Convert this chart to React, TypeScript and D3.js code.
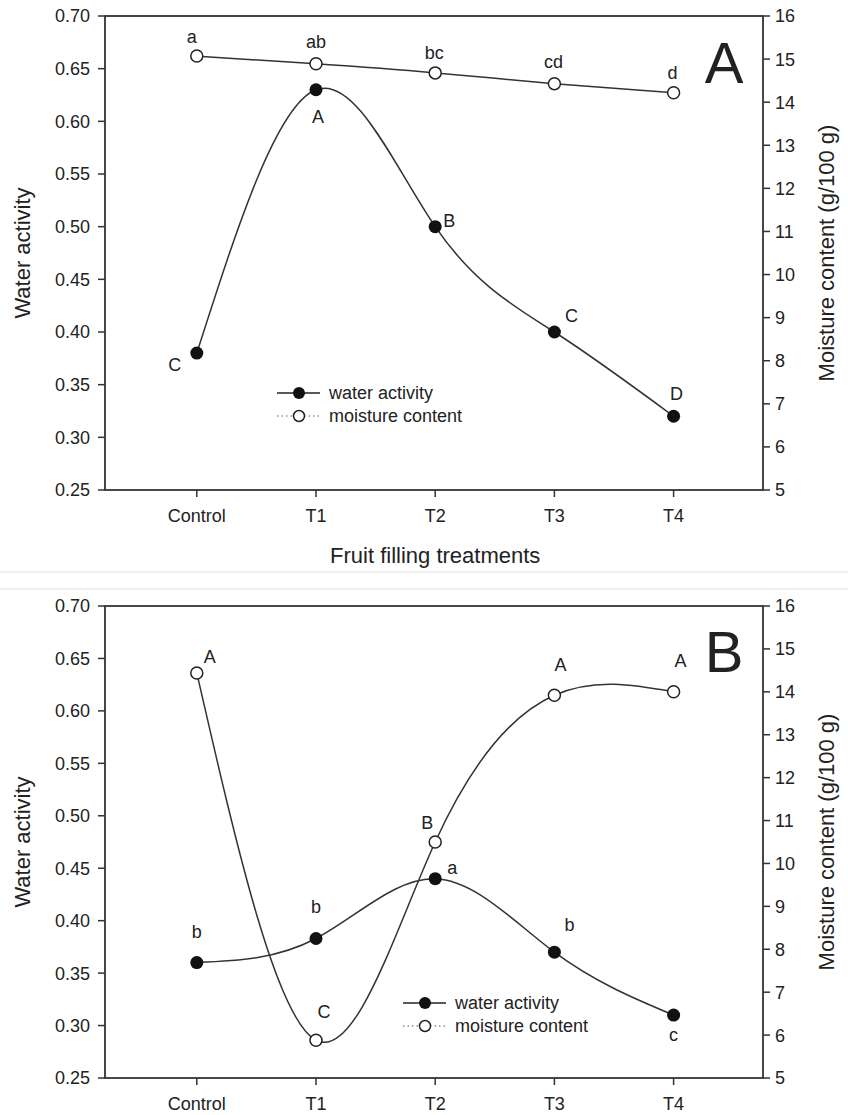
import React from "react";
import * as d3 from "d3";

// categories and tick labels
const treatments = ["Control", "T1", "T2", "T3", "T4"];
const waTicks = [0.25, 0.3, 0.35, 0.4, 0.45, 0.5, 0.55, 0.6, 0.65, 0.7];
const mcTicks = [5, 6, 7, 8, 9, 10, 11, 12, 13, 14, 15, 16];

// panel A
const waterActivityA = [0.38, 0.63, 0.5, 0.4, 0.32];
const moistureA = [15.07, 14.89, 14.68, 14.43, 14.22];
const waLettersA = ["C", "A", "B", "C", "D"];
const mcLettersA = ["a", "ab", "bc", "cd", "d"];

// panel B
const waterActivityB = [0.36, 0.383, 0.44, 0.37, 0.31];
const moistureB = [14.44, 5.88, 10.5, 13.92, 14.0];
const waLettersB = ["b", "b", "a", "b", "c"];
const mcLettersB = ["A", "C", "B", "A", "A"];

const FONT = "Arial, 'Liberation Sans', sans-serif";
const INK = "#222";

const x = d3.scaleLinear().domain([-0.77, 4.75]).range([105, 763]);

type Off = [number, number];

const Panel = ({
  top,
  bottom,
  wa,
  mc,
  waLab,
  mcLab,
  waOff,
  mcOff,
  legend,
  letter,
  letterY,
  xTitle,
}: {
  top: number;
  bottom: number;
  wa: number[];
  mc: number[];
  waLab: string[];
  mcLab: string[];
  waOff: Off[];
  mcOff: Off[];
  legend: { x: number; y: number };
  letter: string;
  letterY: number;
  xTitle: boolean;
}) => {
  const yWa = d3.scaleLinear().domain([0.25, 0.7]).range([bottom, top]);
  const yMc = d3.scaleLinear().domain([5, 16]).range([bottom, top]);
  const left = x.range()[0];
  const right = x.range()[1];
  const mid = (top + bottom) / 2;

  const waLine = d3
    .line<number>()
    .x((_, i) => x(i))
    .y((d) => yWa(d))
    .curve(d3.curveNatural);
  const mcLine = d3
    .line<number>()
    .x((_, i) => x(i))
    .y((d) => yMc(d))
    .curve(d3.curveNatural);

  return (
    <g fontFamily={FONT} fill={INK}>
      {/* frame */}
      <rect x={left} y={top} width={right - left} height={bottom - top} fill="none" stroke="#333" strokeWidth={1.8} />

      {/* left axis */}
      {waTicks.map((t) => (
        <g key={"l" + t}>
          <line x1={left - 7} x2={left} y1={yWa(t)} y2={yWa(t)} stroke="#333" strokeWidth={1.5} />
          <text x={left - 15} y={yWa(t)} dy="0.36em" textAnchor="end" fontSize={18}>
            {t.toFixed(2)}
          </text>
        </g>
      ))}
      {/* right axis */}
      {mcTicks.map((t) => (
        <g key={"r" + t}>
          <line x1={right} x2={right + 7} y1={yMc(t)} y2={yMc(t)} stroke="#333" strokeWidth={1.5} />
          <text x={right + 12} y={yMc(t)} dy="0.36em" fontSize={18}>
            {t}
          </text>
        </g>
      ))}
      {/* bottom axis */}
      {treatments.map((c, i) => (
        <g key={c}>
          <line x1={x(i)} x2={x(i)} y1={bottom} y2={bottom + 7} stroke="#333" strokeWidth={1.5} />
          <text x={x(i)} y={bottom + 26} dy="0.36em" textAnchor="middle" fontSize={18}>
            {c}
          </text>
        </g>
      ))}

      <text transform={`translate(22,${mid}) rotate(-90)`} dy="0.36em" textAnchor="middle" fontSize={22}>
        Water activity
      </text>
      <text transform={`translate(826,${mid}) rotate(-90)`} dy="0.36em" textAnchor="middle" fontSize={22}>
        Moisture content (g/100 g)
      </text>
      {xTitle && (
        <text x={x(2)} y={bottom + 65} dy="0.36em" textAnchor="middle" fontSize={22}>
          Fruit filling treatments
        </text>
      )}

      {/* curves */}
      <path d={mcLine(mc) || ""} fill="none" stroke="#333" strokeWidth={1.5} />
      <path d={waLine(wa) || ""} fill="none" stroke="#333" strokeWidth={1.5} />

      {mc.map((d, i) => (
        <circle key={"mc" + i} cx={x(i)} cy={yMc(d)} r={6} fill="#fff" stroke="#222" strokeWidth={1.5} />
      ))}
      {wa.map((d, i) => (
        <circle key={"wa" + i} cx={x(i)} cy={yWa(d)} r={6.5} fill="#111" />
      ))}

      {/* significance letters */}
      {wa.map((d, i) => (
        <text
          key={"wl" + i}
          x={x(i) + waOff[i][0]}
          y={yWa(d) + waOff[i][1]}
          dy="0.36em"
          textAnchor="middle"
          fontSize={18}
        >
          {waLab[i]}
        </text>
      ))}
      {mc.map((d, i) => (
        <text
          key={"ml" + i}
          x={x(i) + mcOff[i][0]}
          y={yMc(d) + mcOff[i][1]}
          dy="0.36em"
          textAnchor="middle"
          fontSize={18}
        >
          {mcLab[i]}
        </text>
      ))}

      {/* legend */}
      <g transform={`translate(${legend.x},${legend.y})`}>
        <line x1={0} x2={43} y1={0} y2={0} stroke="#222" strokeWidth={1.5} />
        <circle cx={22} cy={0} r={6} fill="#111" />
        <text x={52} y={0} dy="0.36em" fontSize={18}>
          water activity
        </text>
        <line x1={0} x2={43} y1={23} y2={23} stroke="#555" strokeWidth={1.2} strokeDasharray="1.5,3" />
        <circle cx={22} cy={23} r={5.5} fill="#fff" stroke="#222" strokeWidth={1.5} />
        <text x={52} y={23} dy="0.36em" fontSize={18}>
          moisture content
        </text>
      </g>

      <text x={724} y={letterY} textAnchor="middle" fontSize={58}>
        {letter}
      </text>
    </g>
  );
};

export default function App() {
  return (
    <svg
      width={848}
      height={1115}
      style={{ position: "absolute", left: 0, top: 0, background: "#fff" }}
    >
      <rect width={848} height={1115} fill="#fff" />
      <Panel
        top={16}
        bottom={490}
        wa={waterActivityA}
        mc={moistureA}
        waLab={waLettersA}
        mcLab={mcLettersA}
        waOff={[[-22, 11], [2, 27], [14, -6], [17, -16], [3, -23]]}
        mcOff={[[-5, -20], [0, -22], [-1, -20], [-1, -22], [-1, -20]]}
        legend={{ x: 277, y: 393 }}
        letter="A"
        letterY={83}
        xTitle={true}
      />
      <line x1={0} x2={848} y1={572} y2={572} stroke="#ddd" strokeWidth={1} />
      <line x1={0} x2={848} y1={589} y2={589} stroke="#ddd" strokeWidth={1} />
      <Panel
        top={606}
        bottom={1078}
        wa={waterActivityB}
        mc={moistureB}
        waLab={waLettersB}
        mcLab={mcLettersB}
        waOff={[[0, -31], [0, -32], [17, -11], [15, -28], [0, 19]]}
        mcOff={[[13, -16], [8, -29], [-8, -19], [6, -31], [7, -31]]}
        legend={{ x: 403, y: 1003 }}
        letter="B"
        letterY={672}
        xTitle={false}
      />
    </svg>
  );
}
